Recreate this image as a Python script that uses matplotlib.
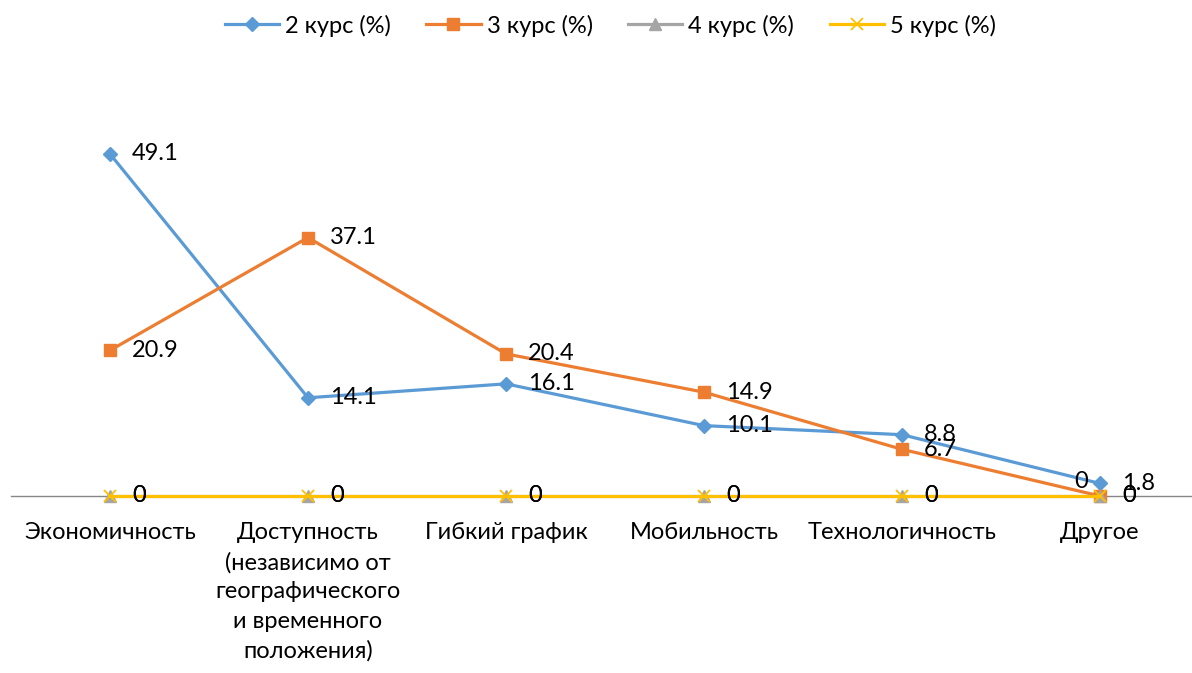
import matplotlib
matplotlib.use("Agg")
import matplotlib.pyplot as plt

plt.rcParams['font.family'] = ['Lato', 'DejaVu Sans']

categories = ["Экономичность",
              "Доступность\n(независимо от\nгеографического\nи временного\nположения)",
              "Гибкий график", "Мобильность", "Технологичность", "Другое"]
series_names = ["2 курс (%)", "3 курс (%)", "4 курс (%)", "5 курс (%)"]
kurs2 = [49.1, 14.1, 16.1, 10.1, 8.8, 1.8]
kurs3 = [20.9, 37.1, 20.4, 14.9, 6.7, 0]
kurs4 = [0, 0, 0, 0, 0, 0]
kurs5 = [0, 0, 0, 0, 0, 0]

W, H = 1192, 673
fig = plt.figure(figsize=(W / 100, H / 100), dpi=100)
left_px, right_px = 11, 1199
bottom_px, top_px = 496, 78
ax = fig.add_axes([left_px / W, (H - bottom_px) / H, (right_px - left_px) / W, (bottom_px - top_px) / H])

FS = 17
x = list(range(len(categories)))
styles = [
    dict(color="#5B9BD5", marker="D", markersize=7),
    dict(color="#ED7D31", marker="s", markersize=9),
    dict(color="#A5A5A5", marker="^", markersize=9),
    dict(color="#FFC000", marker="x", markersize=9, markeredgewidth=1.3),
]
data = [kurs2, kurs3, kurs4, kurs5]
for name, vals, st in zip(series_names, data, styles):
    ax.plot(x, vals, linewidth=2.3, label=name, clip_on=False, zorder=3, **st)
    for i, v in enumerate(vals):
        dx, dy = 22, 0
        if name.startswith("3") and i == len(vals) - 1:
            dx, dy = -26, 14
        ax.annotate(f"{v:g}", (i, v), xytext=(dx, dy), textcoords="offset pixels",
                    ha="left", va="center", fontsize=FS, color="black", zorder=5)

ax.set_xlim(-0.5, len(categories) - 0.5)
ax.set_ylim(0, 60)
ax.set_yticks([])
for s in ["top", "right", "left"]:
    ax.spines[s].set_visible(False)
ax.spines["bottom"].set_color("#868686")
ax.spines["bottom"].set_linewidth(1.0)
ax.spines["bottom"].set_zorder(1)
ax.set_xticks(x)
ax.set_xticklabels(categories, fontsize=FS, linespacing=1.48)
ax.tick_params(axis="x", length=0, pad=19)

fig.legend(loc="upper center", bbox_to_anchor=(0.512, 1.01), ncol=4, frameon=False,
           fontsize=FS, handlelength=2.3, columnspacing=1.5, handletextpad=0.25)

fig.savefig("out.png", dpi=100)
